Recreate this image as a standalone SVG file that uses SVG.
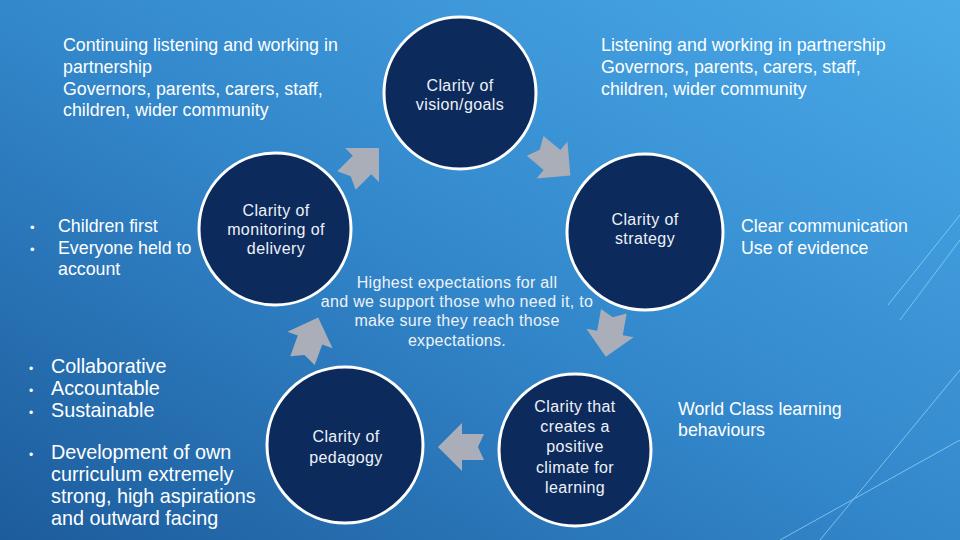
<svg xmlns="http://www.w3.org/2000/svg" width="960" height="540" viewBox="0 0 960 540">
<defs>
<linearGradient id="bg" x1="1" y1="0" x2="0" y2="1">
<stop offset="0" stop-color="#4aaae8"/>
<stop offset="0.5" stop-color="#3388cc"/>
<stop offset="1" stop-color="#1d5c9c"/>
</linearGradient>
<polygon id="arr" points="-22,-13 0,-13 0,-24 24,0 0,24 0,13 -22,13 -16,0"/>
</defs>
<style>
.c{fill:#0c2a5c;stroke:#ffffff;stroke-width:3}
.w{fill:#ffffff;font-family:"Liberation Sans",Arial,sans-serif}
.ct{font-size:16px;text-anchor:middle;letter-spacing:0.4px;fill:#eef2f8}
.lt{font-size:17.8px}
.ar{fill:#a9aeb8}
.dl{stroke:#8fd0f5;stroke-width:1;fill:none;opacity:0.8}
</style>
<rect width="960" height="540" fill="url(#bg)"/>
<g class="dl"><line x1="960" y1="215" x2="888" y2="305"/><line x1="960" y1="240" x2="900" y2="320"/><line x1="960" y1="440" x2="780" y2="540"/><line x1="820" y1="540" x2="960" y2="370"/></g>
<g id="connectors">
<use href="#arr" class="ar" transform="translate(362,165) rotate(-45)"/>
<use href="#arr" class="ar" transform="translate(552,160) rotate(40)"/>
<use href="#arr" class="ar" transform="translate(610,333) rotate(100)"/>
<use href="#arr" class="ar" transform="translate(462,447) rotate(180)"/>
<use href="#arr" class="ar" transform="translate(310,340) rotate(-70)"/>
</g>
<g id="n-vision"><circle class="c" cx="460" cy="93" r="76"/><text class="w ct"><tspan x="460" y="91">Clarity of</tspan><tspan x="460" y="110">vision/goals</tspan></text></g>
<g id="n-monitor"><circle class="c" cx="275" cy="229" r="76"/><text class="w ct"><tspan x="276" y="216">Clarity of</tspan><tspan x="276" y="235">monitoring of</tspan><tspan x="276" y="254">delivery</tspan></text></g>
<g id="n-strategy"><circle class="c" cx="645" cy="232" r="78"/><text class="w ct"><tspan x="645" y="225">Clarity of</tspan><tspan x="645" y="244">strategy</tspan></text></g>
<g id="n-pedagogy"><circle class="c" cx="345" cy="445" r="78"/><text class="w ct"><tspan x="346" y="442">Clarity of</tspan><tspan x="346" y="463">pedagogy</tspan></text></g>
<g id="n-climate"><circle class="c" cx="575" cy="450" r="76"/><text class="w ct"><tspan x="575" y="412">Clarity that</tspan><tspan x="575" y="432">creates a</tspan><tspan x="575" y="452">positive</tspan><tspan x="575" y="473">climate for</tspan><tspan x="575" y="493">learning</tspan></text></g>
<g id="t-center"><text class="w ct" style="letter-spacing:0.3px"><tspan x="457" y="288">Highest expectations for all</tspan><tspan x="457" y="307">and we support those who need it, to</tspan><tspan x="457" y="326">make sure they reach those</tspan><tspan x="457" y="346">expectations.</tspan></text></g>
<g id="t-tl"><text class="w lt"><tspan x="63" y="51">Continuing listening and working in</tspan><tspan x="63" y="73">partnership</tspan><tspan x="63" y="95">Governors, parents, carers, staff,</tspan><tspan x="63" y="116">children, wider community</tspan></text></g>
<g id="t-tr"><text class="w lt"><tspan x="601" y="51">Listening and working in partnership</tspan><tspan x="601" y="73">Governors, parents, carers, staff,</tspan><tspan x="601" y="95">children,  wider community</tspan></text></g>
<g id="t-cl"><text class="w lt"><tspan x="30" y="232" font-size="13">•</tspan><tspan x="58" y="232">Children first</tspan><tspan x="30" y="254" font-size="13">•</tspan><tspan x="58" y="254">Everyone held to</tspan><tspan x="58" y="275">account</tspan></text></g>
<g id="t-cr"><text class="w lt"><tspan x="741" y="232">Clear communication</tspan><tspan x="741" y="254">Use of evidence</tspan></text></g>
<g id="t-wc"><text class="w lt"><tspan x="678" y="415">World Class learning</tspan><tspan x="678" y="436">behaviours</tspan></text></g>
<g id="t-bl"><text class="w" font-size="19.8" font-family="'Open Sans','Liberation Sans',sans-serif"><tspan x="29" y="373" font-size="12">•</tspan><tspan x="51" y="373">Collaborative</tspan><tspan x="29" y="395" font-size="12">•</tspan><tspan x="51" y="395">Accountable</tspan><tspan x="29" y="417" font-size="12">•</tspan><tspan x="51" y="417">Sustainable</tspan><tspan x="29" y="459" font-size="12">•</tspan><tspan x="51" y="459">Development of own</tspan><tspan x="51" y="481">curriculum extremely</tspan><tspan x="51" y="503">strong, high aspirations</tspan><tspan x="51" y="525">and outward facing</tspan></text></g>
</svg>
